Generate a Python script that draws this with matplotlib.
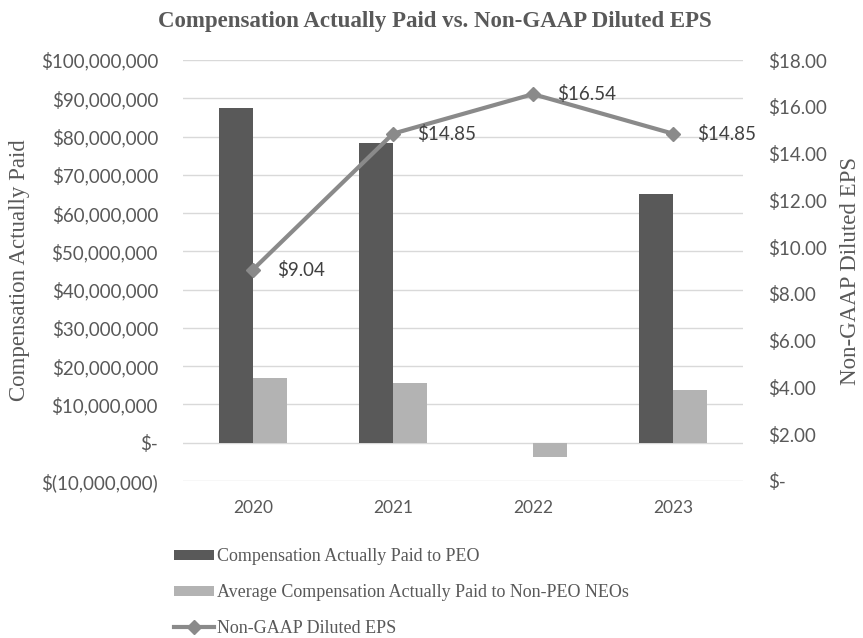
import matplotlib.pyplot as plt
import numpy as np
from matplotlib.ticker import FuncFormatter

years = ['2020', '2021', '2022', '2023']
cap_peo = [87.5e6, 78.3e6, 0, 65.0e6]
cap_neo = [17.0e6, 15.7e6, -3.7e6, 13.8e6]
eps = [9.04, 14.85, 16.54, 14.85]
eps_labels = ['$9.04', '$14.85', '$16.54', '$14.85']

dark = '#595959'
light = '#b3b3b3'
line_c = '#8a8a8a'
txt = '#595959'

serif = 'Liberation Serif'
sans = 'Lato'

fig = plt.figure(figsize=(8.63, 6.38), dpi=100)
ax = fig.add_axes([183/863, 1 - 481/638, 560/863, 421/638])
ax2 = ax.twinx()

x = np.arange(len(years))
w = 0.24
ax.bar(x - w/2, cap_peo, width=w, color=dark, label='Compensation Actually Paid to PEO', zorder=2)
ax.bar(x + w/2, cap_neo, width=w, color=light, label='Average Compensation Actually Paid to Non-PEO NEOs', zorder=2)

ax2.plot(x, eps, color=line_c, lw=3, marker='D', ms=7, label='Non-GAAP Diluted EPS', zorder=3)
for xi, yi, s in zip(x, eps, eps_labels):
    ax2.annotate(s, (xi, yi), xytext=(17, 0), textcoords='offset points',
                 ha='left', va='center', fontsize=13.5, color='#404040', family=sans)

ax.set_xlim(-0.5, 3.5)
ax.set_ylim(-10e6, 100e6)
ax.set_yticks(np.arange(-10e6, 100e6 + 1, 10e6))
ax2.set_ylim(0, 18)
ax2.set_yticks(np.arange(0, 18.1, 2))

def money(v, pos):
    if abs(v) < 1:
        return '$-'
    if v < 0:
        return '$({:,.0f})'.format(-v)
    return '${:,.0f}'.format(v)

def eps_fmt(v, pos):
    if abs(v) < 1e-9:
        return '$-'
    return '${:.2f}'.format(v)

ax.yaxis.set_major_formatter(FuncFormatter(money))
ax2.yaxis.set_major_formatter(FuncFormatter(eps_fmt))
ax.set_xticks(x)
ax.set_xticklabels(years)

ax.grid(axis='y', color='#d9d9d9', lw=1, zorder=0)
ax.set_axisbelow(True)
for a in (ax, ax2):
    for sp in a.spines.values():
        sp.set_visible(False)
    a.tick_params(length=0, labelsize=13.5, labelcolor=txt)
    for lab in a.get_yticklabels() + a.get_xticklabels():
        lab.set_family(sans)
ax.tick_params(axis='y', pad=18)
ax2.tick_params(axis='y', pad=18)
ax.tick_params(axis='x', pad=14, labelsize=12.5)

# axis titles placed in figure coordinates
fig.text(20/863, 1 - 270/638, 'Compensation Actually Paid', rotation=90,
         ha='center', va='center', family=serif, fontsize=16.5, color=txt)
fig.text(850/863, 1 - 271/638, 'Non-GAAP Diluted EPS', rotation=90,
         ha='center', va='center', family=serif, fontsize=16.5, color=txt)

fig.text(435/863, 1 - 21/638, 'Compensation Actually Paid vs. Non-GAAP Diluted EPS',
         ha='center', va='center', family=serif, fontsize=16.5, fontweight='bold', color=txt)

h1, l1 = ax.get_legend_handles_labels()
h2, l2 = ax2.get_legend_handles_labels()
fig.legend(h1 + h2, l1 + l2, loc='upper left', bbox_to_anchor=(158/863, 1 - 532/638),
           frameon=False, prop={'family': serif, 'size': 13}, labelcolor=txt,
           handlelength=2.2, handleheight=0.5, handletextpad=0.15, labelspacing=1.05)

fig.savefig('out.png', dpi=100)
